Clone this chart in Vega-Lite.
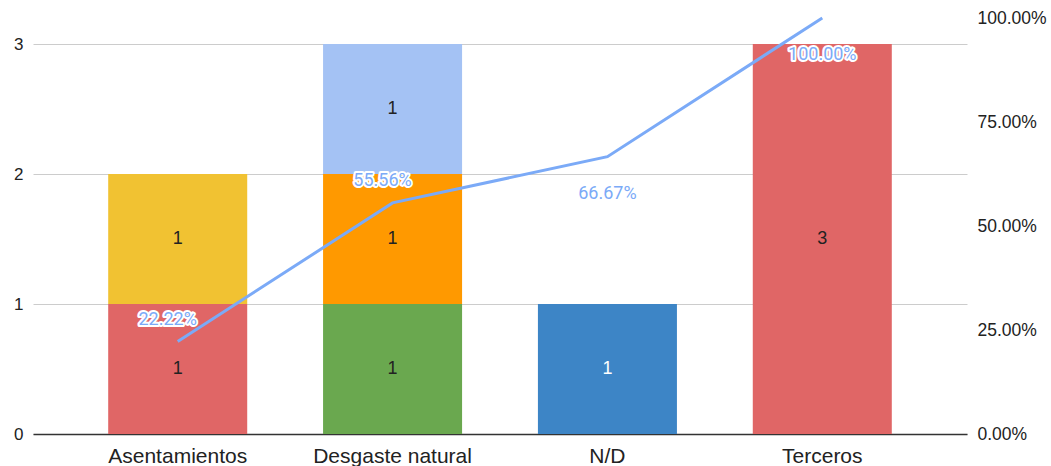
{
  "$schema": "https://vega.github.io/schema/vega-lite/v6.json",
  "width": 934,
  "height": 416,
  "autosize": "none",
  "padding": {"left": 33, "top": 18, "right": 84, "bottom": 32},
  "background": "white",
  "config": {
    "view": {"stroke": null},
    "font": "Liberation Sans",
    "axis": {"labelFont": "Liberation Sans", "labelColor": "#222222"}
  },
  "datasets": {
    "bars": [
      {"categoria": "Asentamientos", "serie": 1, "valor": 1},
      {"categoria": "Asentamientos", "serie": 2, "valor": 1},
      {"categoria": "Desgaste natural", "serie": 3, "valor": 1},
      {"categoria": "Desgaste natural", "serie": 4, "valor": 1},
      {"categoria": "Desgaste natural", "serie": 5, "valor": 1},
      {"categoria": "N/D", "serie": 6, "valor": 1},
      {"categoria": "Terceros", "serie": 1, "valor": 3}
    ],
    "pareto": [
      {"categoria": "Asentamientos", "acumulado": 0.2222, "pos": "arriba"},
      {"categoria": "Desgaste natural", "acumulado": 0.5556, "pos": "arriba"},
      {"categoria": "N/D", "acumulado": 0.6667, "pos": "abajo"},
      {"categoria": "Terceros", "acumulado": 1.0, "pos": "abajo"}
    ]
  },
  "encoding": {
    "x": {
      "field": "categoria", "type": "nominal", "sort": null,
      "scale": {"paddingInner": 0.353, "paddingOuter": 0.35},
      "axis": {
        "title": null, "labelAngle": 0, "labelFontSize": 21, "labelPadding": 11,
        "ticks": false, "domainColor": "#333333", "domainWidth": 1.3, "grid": false
      }
    }
  },
  "layer": [
    {
      "data": {"name": "bars"},
      "encoding": {
        "y": {
          "field": "valor", "type": "quantitative", "aggregate": "sum", "stack": "zero",
          "scale": {"domain": [0, 3.2], "nice": false},
          "axis": {
            "title": null, "values": [0, 1, 2, 3], "labelFontSize": 17, "labelPadding": 10,
            "ticks": false, "domain": false, "grid": true, "gridColor": "#cccccc", "orient": "left"
          }
        },
        "order": {"field": "serie", "type": "quantitative", "sort": "ascending"}
      },
      "layer": [
        {
          "mark": {"type": "bar"},
          "encoding": {
            "color": {
              "field": "serie", "type": "nominal", "legend": null,
              "scale": {
                "domain": [1, 2, 3, 4, 5, 6],
                "range": ["#e06666", "#f1c232", "#6aa84f", "#ff9900", "#a4c2f4", "#3d85c6"]
              }
            }
          }
        },
        {
          "mark": {"type": "text", "fontSize": 18, "baseline": "middle"},
          "encoding": {
            "y": {"field": "valor", "type": "quantitative", "aggregate": "sum", "stack": "zero", "bandPosition": 0.5},
            "text": {"field": "valor", "type": "quantitative", "aggregate": "sum"},
            "color": {
              "condition": {"test": "datum.serie === 6", "value": "#ffffff"},
              "value": "#222222"
            }
          }
        }
      ]
    },
    {
      "data": {"name": "pareto"},
      "encoding": {
        "y": {
          "field": "acumulado", "type": "quantitative",
          "scale": {"domain": [0, 1], "nice": false},
          "axis": {
            "title": null, "orient": "right", "format": ".2%", "values": [0, 0.25, 0.5, 0.75, 1],
            "labelFontSize": 17.5, "labelPadding": 10, "ticks": false, "domain": false, "grid": false
          }
        }
      },
      "layer": [
        {
          "mark": {"type": "line", "color": "#7baaf7", "strokeWidth": 3},
          "encoding": {}
        },
        {
          "transform": [{"filter": "datum.pos === 'arriba'"}],
          "mark": {"type": "text", "fontSize": 18, "font": "Roboto", "dy": -22, "dx": -10, "stroke": "white", "strokeWidth": 4, "strokeJoin": "round", "color": "white"},
          "encoding": {"text": {"field": "acumulado", "type": "quantitative", "format": ".2%"}}
        },
        {
          "transform": [{"filter": "datum.pos === 'arriba'"}],
          "mark": {"type": "text", "fontSize": 18, "font": "Roboto", "dy": -22, "dx": -10, "color": "#7baaf7"},
          "encoding": {"text": {"field": "acumulado", "type": "quantitative", "format": ".2%"}}
        },
        {
          "transform": [{"filter": "datum.pos === 'abajo'"}],
          "mark": {"type": "text", "fontSize": 18, "font": "Roboto", "dy": 37, "stroke": "white", "strokeWidth": 4, "strokeJoin": "round", "color": "white"},
          "encoding": {"text": {"field": "acumulado", "type": "quantitative", "format": ".2%"}}
        },
        {
          "transform": [{"filter": "datum.pos === 'abajo'"}],
          "mark": {"type": "text", "fontSize": 18, "font": "Roboto", "dy": 37, "color": "#7baaf7"},
          "encoding": {"text": {"field": "acumulado", "type": "quantitative", "format": ".2%"}}
        }
      ]
    }
  ],
  "resolve": {"scale": {"y": "independent"}}
}
